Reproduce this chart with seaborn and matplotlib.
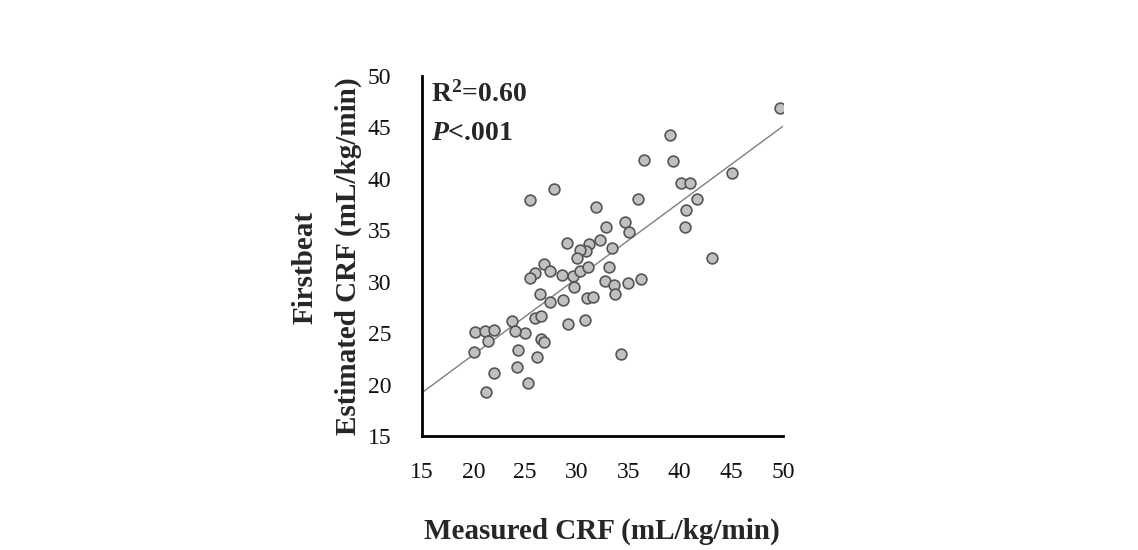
"""
Firstbeat estimated CRF vs measured CRF scatter with linear fit
"""

import numpy as np
import pandas as pd
import matplotlib
matplotlib.use('Agg')
import matplotlib.pyplot as plt
import seaborn as sns

# Values
measured = [49.7, 39.1, 36.5, 39.3, 40.15, 41.0, 45.1, 36.0, 41.7, 40.6,
            34.7, 35.1, 40.5, 43.1, 27.8, 25.5, 31.9, 32.9, 29.1, 31.2,
            30.9, 30.3, 32.3, 33.45, 30.0, 26.8, 26.0, 25.5, 27.4, 28.6,
            29.7, 30.35, 31.1, 33.1, 32.8, 33.6, 33.75, 35.0, 36.2, 29.8,
            26.5, 27.4, 28.7, 31.0, 31.6, 26.0, 26.6, 29.2, 30.85, 25.0,
            26.6, 26.8, 20.2, 21.1, 22.0, 21.4, 20.1, 23.7, 24.0, 24.3,
            26.15, 24.2, 22.0, 25.25, 21.2, 34.3]
estimated = [46.9, 44.3, 41.8, 41.7, 39.6, 39.6, 40.6, 38.0, 38.0, 37.0,
             35.8, 34.85, 35.3, 32.3, 39.0, 37.9, 37.25, 35.3, 33.8, 33.7,
             33.0, 33.1, 34.1, 33.3, 32.3, 31.7, 30.8, 30.4, 31.0, 30.7,
             30.6, 31.0, 31.4, 31.45, 30.1, 29.7, 28.8, 29.9, 30.3, 29.45,
             28.8, 28.05, 28.2, 28.4, 28.5, 26.5, 26.7, 25.85, 26.3, 25.0,
             24.4, 24.1, 25.1, 25.2, 25.3, 24.2, 23.2, 26.2, 25.2, 23.4,
             22.7, 21.7, 21.15, 20.2, 19.3, 23.0]
ticks = [15, 20, 25, 30, 35, 40, 45, 50]

df = pd.DataFrame({'measured': measured, 'estimated': estimated})

sns.set_style('white')
plt.rcParams['font.family'] = ['Liberation Serif', 'DejaVu Serif']
plt.rcParams['mathtext.fontset'] = 'custom'
plt.rcParams['mathtext.rm'] = 'Liberation Serif'
plt.rcParams['mathtext.bf'] = 'Liberation Serif:bold'
plt.rcParams['mathtext.it'] = 'Liberation Serif:italic'
plt.rcParams['mathtext.bfit'] = 'Liberation Serif:bold:italic'

fig = plt.figure(figsize=(11.38, 5.5), dpi=100)
ax = fig.add_axes([0.3706, 0.2073, 0.3174, 0.6545])

# limits first, so the untruncated fit spans the whole axis
ax.set_xlim(15, 50)
ax.set_ylim(15, 50)

sns.regplot(data=df, x='measured', y='estimated', ax=ax, ci=None,
            scatter=False, truncate=False,
            line_kws={'color': '#7f7f7f', 'linewidth': 1.0})

sns.scatterplot(data=df, x='measured', y='estimated', ax=ax, s=60,
                color='#c0c0c0', edgecolor='#555555', linewidth=1.2,
                zorder=3)

ax.set_xlim(15, 50)
ax.set_ylim(15, 50)
ax.set_xticks(ticks)
ax.set_yticks(ticks)
ax.tick_params(axis='both', labelsize=17, length=5, width=1.2,
               direction='out', color='black', labelcolor='#111111')
ax.tick_params(axis='y', pad=17)
ax.tick_params(axis='x', pad=14)

for side in ['top', 'right']:
    ax.spines[side].set_visible(False)
for side in ['left', 'bottom']:
    ax.spines[side].set_color('black')
    ax.spines[side].set_linewidth(2)

ax.set_xlabel('Measured CRF (mL/kg/min)', fontsize=21, fontweight='bold',
              labelpad=25)
ax.set_ylabel('Estimated CRF (mL/kg/min)', fontsize=21, fontweight='bold',
              labelpad=4)
fig.text(0.268, 0.513, 'Firstbeat', fontsize=21, fontweight='bold',
         rotation=90, ha='center', va='center')

# Stats annotation
ax.text(0.025, 0.985, r'R$^{\mathbf{2}}$=0.60', transform=ax.transAxes,
        fontsize=20, fontweight='bold', va='top', ha='left')
ax.text(0.025, 0.875, r'$\boldsymbol{P}$<.001', transform=ax.transAxes,
        fontsize=20, fontweight='bold', va='top', ha='left')

plt.savefig('out.png', dpi=100)
